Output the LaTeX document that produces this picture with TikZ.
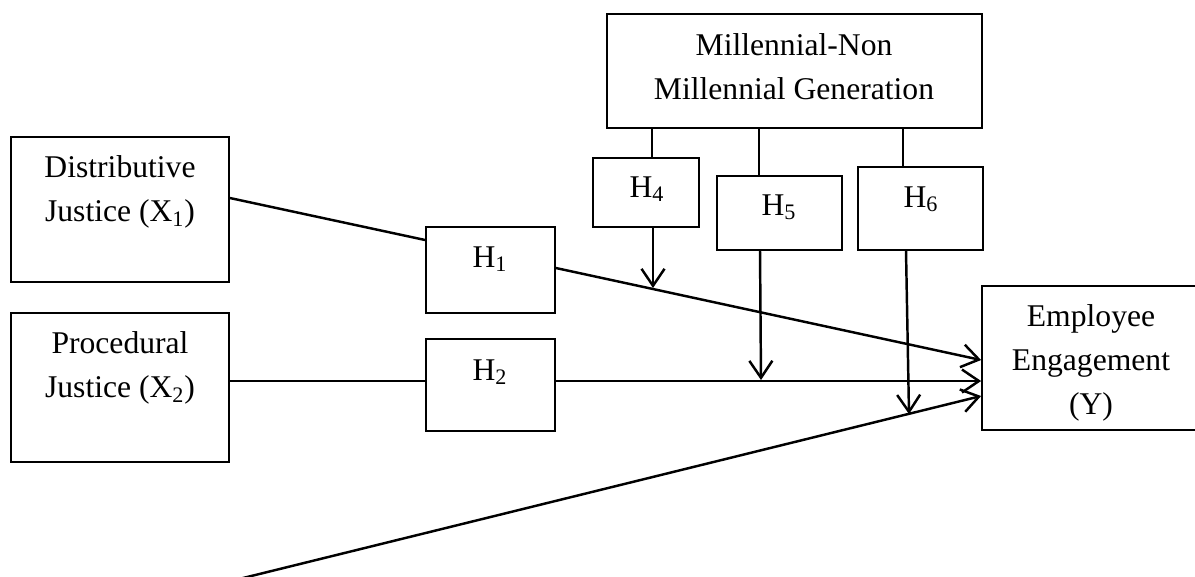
\documentclass[tikz,border=0pt]{standalone}
\usepackage{fontspec}
\setmainfont{Liberation Serif}
\usetikzlibrary{arrows.meta,fit}

\begin{document}
\begin{tikzpicture}[x=0.02cm, y=-0.02cm, line width=1.4pt,
        >={Straight Barb[length=3.4mm,width=4.6mm]},
        box/.style={draw, line width=1pt, inner sep=0pt},
        txt/.style={align=center, inner sep=0pt, font=\fontsize{18}{25}\selectfont}]
        \useasboundingbox (0,0) rectangle (1195,576);
        \node[box, fit={(11,137) (229,282)}] (dj) {};
        \node[txt] (djt) at (120,192) {Distributive\\Justice (X\textsubscript{1})};
        \node[box, fit={(11,313) (229,462)}] (pj) {};
        \node[txt] (pjt) at (120,368) {Procedural\\Justice (X\textsubscript{2})};
        \node[box, fit={(426,227) (555,313)}] (h1) {};
        \node[txt, anchor=base] (lab1) at (490,267) {H\textsubscript{1}};
        \node[box, fit={(426,339) (555,431)}] (h2) {};
        \node[txt, anchor=base] (lab2) at (490,380) {H\textsubscript{2}};
        \node[box, fit={(607,14) (982,128)}] (mg) {};
        \node[txt] (mgt) at (794,67) {Millennial-Non\\Millennial Generation};
        \node[box, fit={(982,286) (1205,430)}] (ee) {};
        \node[txt] (eet) at (1091,363) {Employee\\Engagement\\(Y)};
        \foreach \i/\xa/\ya/\xb/\yb/\xc/\yc in {4/593/158/699/227/647/197, 5/717/176/842/250/779/215, 6/858/167/983/250/921/207} {
            \node[box, fit={(\xa,\ya) (\xb,\yb)}] (h\i) {};
            \node[txt, anchor=base] (lab\i) at (\xc,\yc) {H\textsubscript{\i}};
        }
        \coordinate (x3) at (235,580);
        \coordinate (m4) at (653,288);
        \coordinate (m5) at (761,380);
        \coordinate (m6) at (909,414);
        % direct paths
        \draw (dj.east |- 0,198) -- (h1.west |- 0,240);
        \draw[->] (h1.east |- 0,268) -- (ee.west |- 0,360);
        \draw (pj.east |- 0,381) -- (h2.west |- 0,381);
        \draw[->] (h2.east |- 0,381) -- (ee.west |- 0,381);
        \draw[->] (x3) -- (ee.west |- 0,396);
        % moderation
        \draw (mg.south -| 652,0) -- (h4.north -| 652,0);
        \draw[->] (h4.south -| 653,0) -- (m4);
        \draw (mg.south -| 759,0) -- (h5.north -| 759,0);
        \draw[->] (h5.south -| 760,0) -- (m5);
        \draw (mg.south -| 903,0) -- (h6.north -| 903,0);
        \draw[->] (h6.south -| 906,0) -- (m6);
    \end{tikzpicture}
\end{document}
